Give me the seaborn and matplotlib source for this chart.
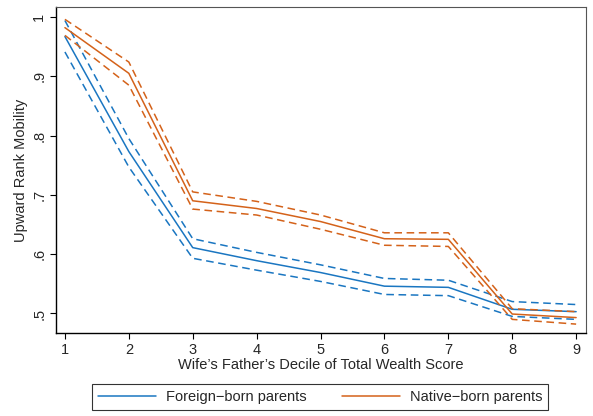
import matplotlib
matplotlib.use("Agg")
import matplotlib.pyplot as plt
import seaborn as sns
import pandas as pd
from matplotlib.lines import Line2D

deciles = [1, 2, 3, 4, 5, 6, 7, 8, 9]
foreign_mean = [0.967, 0.773, 0.611, 0.589, 0.569, 0.546, 0.544, 0.507, 0.503]
foreign_upper = [0.994, 0.795, 0.626, 0.603, 0.582, 0.559, 0.556, 0.520, 0.515]
foreign_lower = [0.941, 0.747, 0.593, 0.573, 0.554, 0.532, 0.530, 0.495, 0.490]
native_mean = [0.982, 0.905, 0.690, 0.677, 0.655, 0.626, 0.625, 0.499, 0.493]
native_upper = [0.996, 0.924, 0.705, 0.689, 0.666, 0.636, 0.636, 0.508, 0.503]
native_lower = [0.969, 0.885, 0.676, 0.666, 0.642, 0.615, 0.613, 0.490, 0.482]
yticks = [0.5, 0.6, 0.7, 0.8, 0.9, 1.0]
ytick_labels = [".5", ".6", ".7", ".8", ".9", "1"]

blue = "#1a76c1"
orange = "#d4621a"

sns.set_style("white")
plt.rcParams["font.family"] = ["Liberation Sans", "DejaVu Sans"]
FS = 10.5

fig = plt.figure(figsize=(5.93, 4.16), dpi=100)
ax = fig.add_axes([0.0944, 0.1995, 0.8933, 0.7825])

series = [
    (foreign_mean, blue, "-"), (foreign_upper, blue, (0, (5, 3))), (foreign_lower, blue, (0, (5, 3))),
    (native_mean, orange, "-"), (native_upper, orange, (0, (5, 3))), (native_lower, orange, (0, (5, 3))),
]
for vals, col, ls in series:
    df = pd.DataFrame({"x": deciles, "y": vals})
    sns.lineplot(data=df, x="x", y="y", ax=ax, color=col, linestyle=ls, linewidth=1.1)

ax.set_xlim(0.86, 9.15)
ax.set_ylim(0.467, 1.016)
ax.set_xticks(deciles)
ax.set_xticklabels([str(d) for d in deciles], fontsize=FS)
ax.set_yticks(yticks)
ax.set_yticklabels(ytick_labels, fontsize=FS, rotation=90, va="center")
ax.tick_params(axis="both", direction="out", length=4, width=0.8, color="black", pad=3,
               bottom=True, left=True)
ax.set_xlabel("Wife\u2019s Father\u2019s Decile of Total Wealth Score", fontsize=FS, labelpad=1)
ax.set_ylabel("Upward Rank Mobility", fontsize=FS, labelpad=3)
for s in ["left", "bottom"]:
    ax.spines[s].set_color("black")
    ax.spines[s].set_linewidth(1.0)
for s in ["top", "right"]:
    ax.spines[s].set_color("#555555")
    ax.spines[s].set_linewidth(0.8)

handles = [Line2D([0], [0], color=blue, lw=1.1), Line2D([0], [0], color=orange, lw=1.1)]
leg = fig.legend(handles, ["Foreign\u2212born parents", "Native\u2212born parents"],
                 loc="center", bbox_to_anchor=(0.54, 0.0457), ncol=2, fontsize=FS,
                 frameon=True, fancybox=False, handlelength=4.0, columnspacing=2.4,
                 handletextpad=0.68, borderpad=0.4, borderaxespad=0)
leg.get_frame().set_edgecolor("black")
leg.get_frame().set_linewidth(0.8)

fig.savefig("out.png", dpi=100)
